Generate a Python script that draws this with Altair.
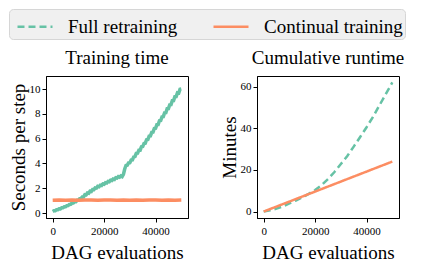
import altair as alt
import pandas as pd

SERIES = ["Full retraining", "Continual training"]
COLORS = ["#66c2a5", "#fc8d62"]

# Seconds per step (left panel)
steps_full = list(range(0, 50001, 500))
sec_full = [0.12, 0.18, 0.19, 0.27, 0.27, 0.35, 0.34, 0.42, 0.42, 0.50,
            0.50, 0.59, 0.60, 0.69, 0.70, 0.80, 0.80, 0.91, 0.91, 1.03,
            1.03, 1.15, 1.16, 1.30, 1.30, 1.48, 1.46, 1.62, 1.60, 1.76,
            1.74, 1.90, 1.89, 2.03, 2.01, 2.15, 2.12, 2.25, 2.22, 2.35,
            2.32, 2.45, 2.42, 2.55, 2.52, 2.65, 2.62, 2.74, 2.71, 2.85,
            2.82, 2.94, 2.89, 2.99, 2.93, 3.12, 3.55, 3.84, 3.86, 4.04,
            4.06, 4.27, 4.29, 4.53, 4.56, 4.81, 4.83, 5.07, 5.07, 5.34,
            5.36, 5.61, 5.63, 5.91, 5.93, 6.21, 6.22, 6.51, 6.52, 6.81,
            6.83, 7.13, 7.14, 7.44, 7.46, 7.76, 7.77, 8.08, 8.09, 8.41,
            8.42, 8.73, 8.74, 9.06, 9.07, 9.38, 9.39, 9.69, 9.67, 9.98,
            10.0]
steps_cont = list(range(0, 50001, 2500))
sec_cont = [1.04, 1.06, 1.03, 1.05, 1.04, 1.06, 1.05, 1.03, 1.05, 1.06,
            1.04, 1.05, 1.03, 1.06, 1.04, 1.05, 1.06, 1.04, 1.05, 1.03, 1.05]

# Cumulative runtime in minutes (right panel)
cum_steps_full = list(range(0, 50001, 2500))
cum_full = [0.0, 0.6, 1.4, 2.5, 3.9, 5.3, 6.8, 8.5, 10.3, 12.7, 15.6,
            19.0, 22.8, 26.7, 31.2, 35.8, 40.5, 45.5, 51.0, 56.5, 62.0]
cum_steps_cont = [0, 10000, 20000, 30000, 40000, 50000]
cum_cont = [0.0, 4.8, 9.6, 14.4, 19.2, 24.0]

left_df = pd.concat([
    pd.DataFrame({"x": steps_full, "y": sec_full, "series": SERIES[0]}),
    pd.DataFrame({"x": steps_cont, "y": sec_cont, "series": SERIES[1]}),
])
right_df = pd.concat([
    pd.DataFrame({"x": cum_steps_full, "y": cum_full, "series": SERIES[0]}),
    pd.DataFrame({"x": cum_steps_cont, "y": cum_cont, "series": SERIES[1]}),
])

color = alt.Color("series:N", title=None,
                  scale=alt.Scale(domain=SERIES, range=COLORS))
dash = alt.StrokeDash("series:N", title=None,
                      scale=alt.Scale(domain=SERIES, range=[[7, 4], [1, 0]]))

xenc = alt.X("x:Q", title="DAG evaluations",
             scale=alt.Scale(domain=[-2600, 52600], nice=False, zero=False),
             axis=alt.Axis(values=[0, 20000, 40000], format="d"))

left = alt.Chart(left_df, title="Training time").mark_line(strokeWidth=3.5).encode(
    x=xenc,
    y=alt.Y("y:Q", title="Seconds per step",
            scale=alt.Scale(domain=[-0.4, 11.05], nice=False, zero=False),
            axis=alt.Axis(values=[0, 2, 4, 6, 8, 10])),
    color=color,
    detail="series:N",
).properties(width=142, height=142)

right = alt.Chart(right_df, title="Cumulative runtime").mark_line(strokeWidth=2.5).encode(
    x=xenc,
    y=alt.Y("y:Q", title="Minutes",
            scale=alt.Scale(domain=[-3.1, 65.1], nice=False, zero=False),
            axis=alt.Axis(values=[0, 20, 40, 60])),
    color=color,
    strokeDash=dash,
).properties(width=142, height=142)

FONT = "Liberation Serif"

chart = alt.hconcat(left, right, spacing=30, padding=0).configure(
    font=FONT,
).configure_view(
    stroke="black", strokeWidth=1,
).configure_axis(
    grid=False, domainColor="black", tickColor="black", tickSize=4,
    labelFontSize=11, labelColor="black", labelFont=FONT,
    titleFontSize=19, titleFont=FONT,
    titleFontWeight="normal", titleColor="black", labelPadding=2,
).configure_axisX(
    titlePadding=7, labelPadding=3,
).configure_axisY(
    titlePadding=1,
).configure_title(
    font=FONT, fontSize=19, fontWeight="normal", color="black",
    baseline="bottom", offset=8,
).configure_legend(
    orient="none", legendX=-37, legendY=-67, direction="horizontal",
    fillColor="#f0f0f0", strokeColor="#d6d6d6", cornerRadius=4, padding=2,
    labelFont=FONT, labelFontSize=19, labelColor="black",
    symbolType="M-1.25,0H1.25", symbolSize=784, symbolStrokeWidth=2.5,
    symbolFillColor="transparent", symbolOffset=8.5, labelOffset=17.5,
    columnPadding=29,
)

chart.save("out.html", embed_options={"renderer": "svg", "actions": False})
